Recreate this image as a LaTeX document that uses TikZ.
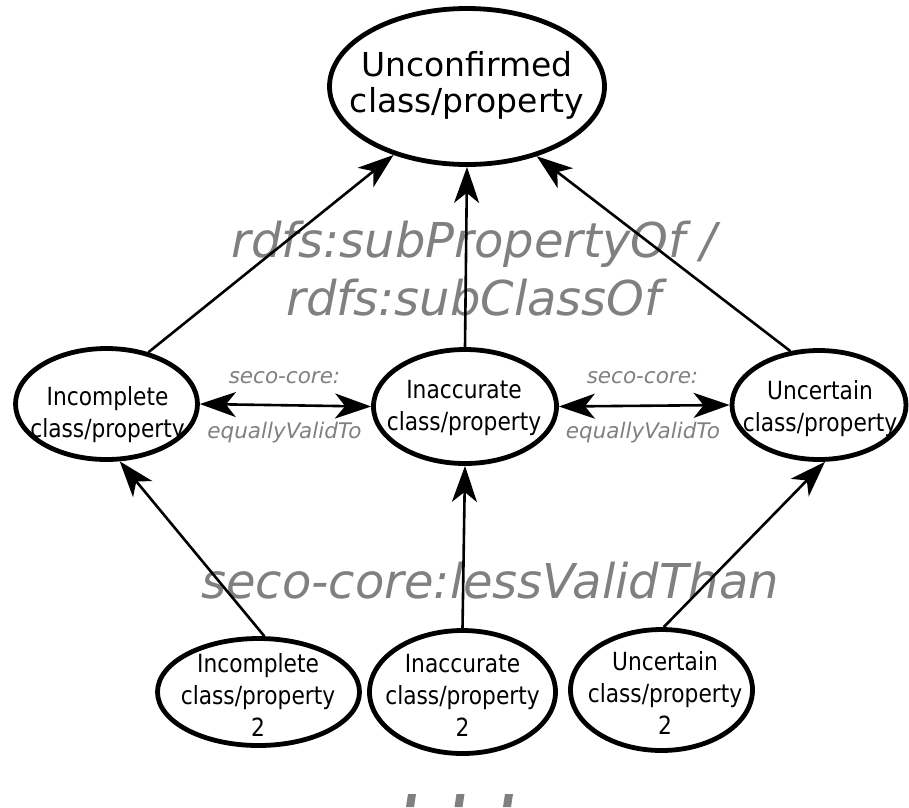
\documentclass[tikz,border=0pt]{standalone}
\usepackage{fontspec}
\setmainfont{DejaVu Sans}
\newfontfamily\narrowfont{DejaVu Sans}[FakeStretch=0.87]
\usetikzlibrary{shapes.geometric,arrows.meta}
\definecolor{notegrey}{RGB}{128,128,128}

\begin{document}
\begin{tikzpicture}[x=1pt,y=-1pt,
  >={Stealth[length=36pt,width=25pt,inset=10pt]},
  concept/.style={ellipse, draw=black, line width=4.8pt, inner sep=0pt},
  toptext/.style={inner sep=0pt, align=center, font=\fontsize{33}{36}\selectfont},
  nodetext/.style={inner sep=0pt, align=center, font=\narrowfont\fontsize{25}{32}\selectfont},
  biglabel/.style={inner sep=0pt, anchor=base, text=notegrey, font=\itshape\fontsize{48}{56}\selectfont},
  smalllabel/.style={inner sep=0pt, anchor=base, text=notegrey, font=\itshape\fontsize{21.5}{25}\selectfont},
  link/.style={line width=2.6pt, ->},
  twoway/.style={line width=2.6pt, <->}
]
\path[use as bounding box] (0,0) rectangle (909,807);

% relation names in the background
\node[biglabel] (subprop) at (474,257) {rdfs:subPropertyOf /};
\node[biglabel] (subclass) at (474,315) {rdfs:subClassOf};
\node[biglabel] (lessvalid) at (490,598) {seco-core:lessValidThan};
\node[smalllabel] (eqA1) at (284.5,383) {seco-core:};
\node[smalllabel] (eqA2) at (284.5,438) {equallyValidTo};
\node[smalllabel] (eqB1) at (642.5,383) {seco-core:};
\node[smalllabel] (eqB2) at (643,438) {equallyValidTo};

% cut-off strokes along the lower edge
\foreach \x in {408,456.5,505}
  \fill[notegrey] (\x-2,807) -- (\x,794) -- (\x+8,794) -- (\x+6,807) -- cycle;

% the class/property ellipses
\node[concept, minimum width=275pt, minimum height=156pt] (unconf) at (467,86.5) {};
\node[concept, minimum width=182pt, minimum height=111pt] (incompl) at (106.5,404) {};
\node[concept, minimum width=183pt, minimum height=114pt] (inacc) at (465,406.5) {};
\node[concept, minimum width=174pt, minimum height=109pt] (uncert) at (819,405) {};
\node[concept, minimum width=202pt, minimum height=107pt] (incompl2) at (258.5,692) {};
\node[concept, minimum width=186pt, minimum height=123pt] (inacc2) at (462.5,692) {};
\node[concept, minimum width=182pt, minimum height=121pt] (uncert2) at (661.5,690) {};

% their texts
\node[toptext] (unconf-t) at (467,85.5) {Unconfirmed\\class/property};
\node[nodetext] (incompl-t) at (107.5,415) {Incomplete\\class/property};
\node[nodetext] (inacc-t) at (464,408) {Inaccurate\\class/property};
\node[nodetext] (uncert-t) at (820,409) {Uncertain\\class/property};
\node[nodetext] (incompl2-t) at (258,695) {Incomplete\\class/property\\2};
\node[nodetext] (inacc2-t) at (462.5,695) {Inaccurate\\class/property\\2};
\node[nodetext] (uncert2-t) at (665,693) {Uncertain\\class/property\\2};

% sub-property / sub-class links
\draw[link] (incompl.51) -- (unconf.223);
\draw[link] (inacc.north) -- (unconf.south);
\draw[link] (uncert.118) -- (unconf.315.5);

% equally valid
\draw[twoway] (incompl.east) -- (inacc.west);
\draw[twoway] (inacc.east) -- (uncert.west);

% less valid than
\draw[link] (incompl2.84) -- (incompl.283);
\draw[link] (inacc2.north) -- (inacc.south);
\draw[link] (uncert2.88) -- (uncert.276);
\end{tikzpicture}
\end{document}
